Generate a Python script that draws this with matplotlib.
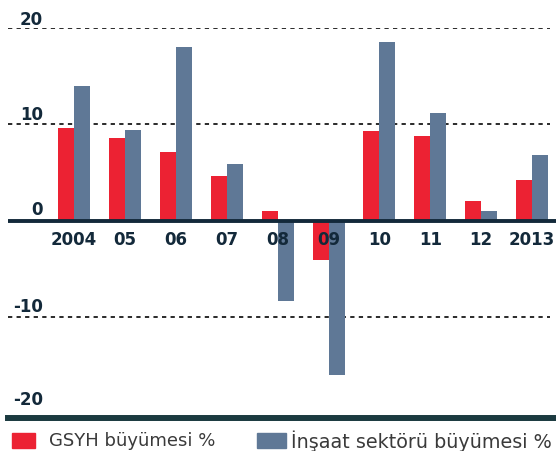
import matplotlib
matplotlib.use("Agg")
import matplotlib.pyplot as plt
from matplotlib.lines import Line2D
from matplotlib.patches import Rectangle
import numpy as np

years = ["2004", "05", "06", "07", "08", "09", "10", "11", "12", "2013"]
gdp_growth = [9.6, 8.6, 7.1, 4.6, 1.0, -4.1, 9.3, 8.8, 2.0, 4.2]
construction_growth = [14.0, 9.4, 18.0, 5.9, -8.3, -16.0, 18.5, 11.2, 1.0, 6.8]
yticks = [20, 10, 0, -10, -20]
legend_labels = ["GSYH büyümesi %", "İnşaat sektörü büyümesi %"]

RED = "#ec2233"
BLUE = "#5f7896"
NAVY = "#13293a"
TEAL = "#1b3a40"

W, H = 556, 451
fig = plt.figure(figsize=(W / 100, H / 100), dpi=100)
plt.rcParams['font.family'] = ['DejaVu Sans']

# axes placement in pixels
x0_px, x1_px = 8, 556
ytop_px, ybot_px = 28, 413.5
ax = fig.add_axes([x0_px / W, 1 - ybot_px / H, (x1_px - x0_px) / W, (ybot_px - ytop_px) / H])
ax.set_ylim(-20, 20)
step = 50.9
c0 = 74
ax.set_xlim((x0_px - c0) / step, (x1_px - c0) / step)
ax.axis("off")

x = np.arange(len(years))
bw = 16 / step
ax.bar(x - bw / 2, gdp_growth, width=bw, color=RED, zorder=2)
ax.bar(x + bw / 2, construction_growth, width=bw, color=BLUE, zorder=2)

# dashed grid lines
for yv in [20, 10, -10]:
    ax.plot([ax.get_xlim()[0], (550 - c0) / step], [yv, yv], color="#2a2a2a",
            lw=1.4, linestyle=(0, (2.2, 2.2)), zorder=1)

# zero line
ax.axhline(0, color=NAVY, lw=2.8, zorder=3)

# y tick labels (above gridlines, right aligned)
offsets = {20: 0.35, 10: 0.5, 0: 0.55, -10: 0.55, -20: 0.85}
for yv in yticks:
    ax.text((43 - c0) / step, yv + offsets[yv], f"{yv}", ha="right", va="baseline",
            fontsize=12, fontweight="bold", color=NAVY, zorder=4)

# x labels
for i, lab in enumerate(years):
    ax.text(i, -1.95, lab, ha="center", va="center", fontsize=12,
            fontweight="bold", color=NAVY, zorder=4)

# bottom thick bar
fig.add_artist(Line2D([8 / W, 1.0], [1 - 418 / H, 1 - 418 / H], color=TEAL,
                      lw=4.3, transform=fig.transFigure))

# legend
def px_rect(xl, yt, w, h, color):
    fig.add_artist(Rectangle((xl / W, 1 - (yt + h) / H), w / W, h / H,
                             color=color, transform=fig.transFigure))

px_rect(12, 433, 23, 15, RED)
fig.text(49 / W, 1 - 441 / H, legend_labels[0], ha="left", va="center",
         fontsize=13, color="#3a3a3a")
px_rect(257, 433, 29, 15, BLUE)
fig.text(291 / W, 1 - 441 / H, legend_labels[1], ha="left", va="center",
         fontsize=13.8, color="#3a3a3a")

fig.savefig("out.png", dpi=100)
